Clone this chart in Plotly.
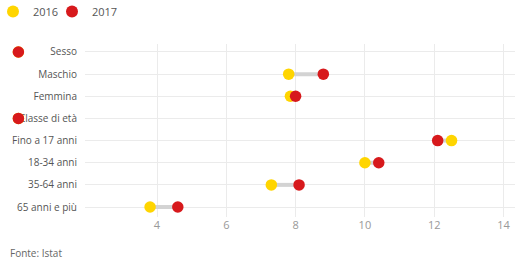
import plotly.graph_objects as go

categories = ["Sesso", "Maschio", "Femmina", "Classe di età", "Fino a 17 anni",
              "18-34 anni", "35-64 anni", "65 anni e più"]
is_header = [True, False, False, True, False, False, False, False]
v2016 = [0, 7.8, 7.85, 0, 12.5, 10.0, 7.3, 3.8]
v2017 = [0, 8.8, 8.0, 0, 12.1, 10.4, 8.1, 4.6]
tick_vals = [4, 6, 8, 10, 12, 14]
source = "Fonte: Istat"

YEL = "#FFD500"
RED = "#D7191C"

W, H = 516, 268
ML, MR, MT, MB = 0, 1, 44, 51
PLOT_W = W - ML - MR
PLOT_H = H - MT - MB
LEFT_PX = 85          # where the main plot area starts
X0_PX = 18.4          # pixel of value 0
PX_PER_UNIT = 34.65
main_range = [(LEFT_PX - X0_PX) / PX_PER_UNIT, (PLOT_W - X0_PX) / PX_PER_UNIT]
full_range = [(0 - X0_PX) / PX_PER_UNIT, (PLOT_W - X0_PX) / PX_PER_UNIT]
y_range = [7.45, -0.36]

lx, ly = [], []
for c, a, b, h in zip(categories, v2016, v2017, is_header):
    if h:
        continue
    lx += [a, b, None]
    ly += [c, c, None]

m16 = [None if h else v for v, h in zip(v2016, is_header)]
m17 = [None if h else v for v, h in zip(v2017, is_header)]
h16 = [v if h else None for v, h in zip(v2016, is_header)]
h17 = [v if h else None for v, h in zip(v2017, is_header)]

MS = 11.5

fig = go.Figure()
fig.add_trace(go.Scatter(x=lx, y=ly, mode="lines", line=dict(color="#d3d3d3", width=4),
                         showlegend=False, hoverinfo="skip"))
fig.add_trace(go.Scatter(x=m16, y=categories, mode="markers", name="2016",
                         marker=dict(color=YEL, size=MS), cliponaxis=False,
                         legend="legend"))
fig.add_trace(go.Scatter(x=m17, y=categories, mode="markers", name="2017",
                         marker=dict(color=RED, size=MS), cliponaxis=False,
                         legend="legend2"))
# header rows (drawn on a full-width overlay axis)
fig.add_trace(go.Scatter(x=h16, y=categories, mode="markers", showlegend=False,
                         marker=dict(color=YEL, size=MS), xaxis="x2", yaxis="y2",
                         cliponaxis=False))
fig.add_trace(go.Scatter(x=h17, y=categories, mode="markers", showlegend=False,
                         marker=dict(color=RED, size=MS), xaxis="x2", yaxis="y2",
                         cliponaxis=False))

leg_common = dict(orientation="h", xref="paper", yref="paper",
                  y=(PLOT_H + MT + 3) / PLOT_H, xanchor="left", yanchor="top",
                  font=dict(size=11, color="#555"), itemsizing="constant",
                  bgcolor="rgba(0,0,0,0)")

fig.update_layout(
    width=W, height=H,
    margin=dict(l=ML, r=MR, t=MT, b=MB, autoexpand=False),
    paper_bgcolor="white", plot_bgcolor="rgba(0,0,0,0)",
    font=dict(family="Open Sans", size=11, color="#555"),
    showlegend=True,
    legend=dict(x=-7 / PLOT_W, **leg_common),
    legend2=dict(x=52 / PLOT_W, **leg_common),
    xaxis=dict(domain=[LEFT_PX / PLOT_W, 1], range=main_range, tickvals=tick_vals,
               showgrid=True, gridcolor="#ebebeb", zeroline=False, showline=False,
               tickfont=dict(color="#999", size=11)),
    yaxis=dict(type="category", categoryorder="array", categoryarray=categories,
               range=y_range, showgrid=True, gridcolor="#ebebeb", zeroline=False,
               ticks="outside", ticklen=5, tickcolor="rgba(0,0,0,0)",
               tickfont=dict(color="#555", size=10)),
    xaxis2=dict(domain=[0, 1], range=full_range, visible=False, anchor="y2"),
    yaxis2=dict(type="category", categoryorder="array", categoryarray=categories,
                range=y_range, visible=False, anchor="x2", showgrid=False),
    annotations=[dict(text=source, xref="paper", yref="paper", x=8 / PLOT_W,
                      y=(217 - 253) / PLOT_H,
                      xanchor="left", yanchor="middle", showarrow=False,
                      font=dict(size=10, color="#666"))],
)

fig.write_html("out.html")
